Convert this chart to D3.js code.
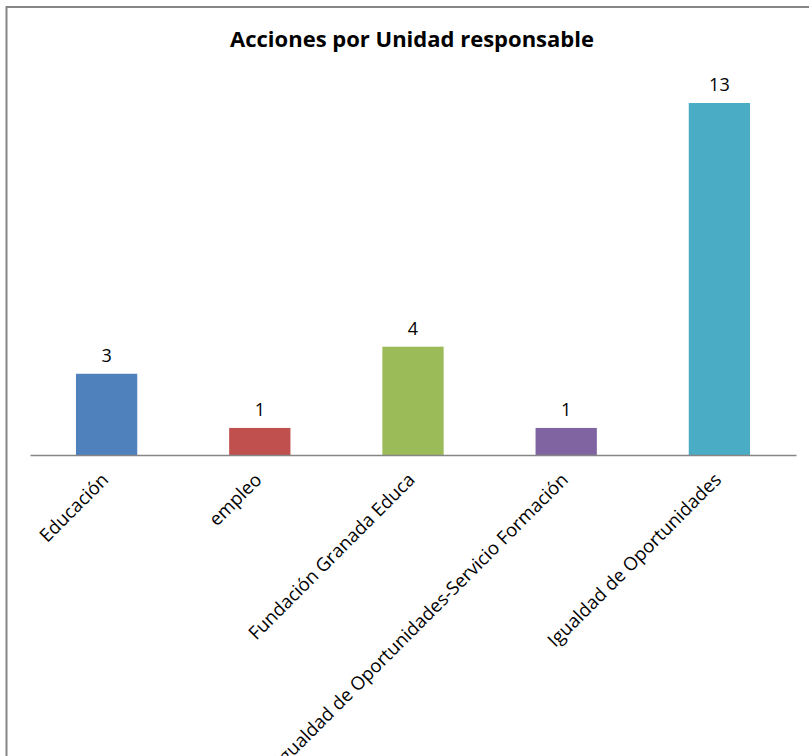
<!DOCTYPE html>
<html><head><meta charset="utf-8">
<script src="https://cdn.jsdelivr.net/npm/d3@7"></script>
<style>body{margin:0;background:#fff;overflow:hidden}svg{display:block}</style>
</head><body>
<script>
const categories = ["Educación","empleo","Fundación Granada Educa","Igualdad de Oportunidades-Servicio Formación","Igualdad de Oportunidades"];
const values = [3,1,4,1,13];
const colors = ["#4F81BD","#C0504D","#9BBB59","#8064A2","#4BACC6"];
const title = "Acciones por Unidad responsable";

const W=809,H=756;
const svg=d3.select("body").append("svg").attr("width",W).attr("height",H);
svg.append("rect").attr("x",0).attr("y",0).attr("width",W).attr("height",H).attr("fill","#fff");
// frame (extends past right/bottom edge)
svg.append("rect").attr("x",6.5).attr("y",7).attr("width",W+20).attr("height",H+20)
  .attr("fill","none").attr("stroke","#868686").attr("stroke-width",2);

const x=d3.scaleBand().domain(categories).range([30,796]).paddingInner(0.6).paddingOuter(0.3);
const y=d3.scaleLinear().domain([0,13]).range([455,103]);

svg.append("text").attr("x",412).attr("y",47).attr("text-anchor","middle")
  .attr("font-family","Open Sans, sans-serif").attr("font-weight","bold").attr("font-size",22)
  .attr("fill","#000").text(title);

svg.selectAll("rect.bar").data(values).enter().append("rect").attr("class","bar")
  .attr("x",(d,i)=>x(categories[i])).attr("width",x.bandwidth())
  .attr("y",d=>y(d)).attr("height",d=>y(0)-y(d)).attr("fill",(d,i)=>colors[i]);

svg.selectAll("text.val").data(values).enter().append("text").attr("class","val")
  .attr("x",(d,i)=>x(categories[i])+x.bandwidth()/2).attr("y",d=>y(d)-12)
  .attr("text-anchor","middle").attr("font-family","Open Sans, sans-serif").attr("font-size",18)
  .attr("fill","#000").text(d=>d);

const axis=d3.axisBottom(x).tickSize(0).tickSizeOuter(0);
const g=svg.append("g").attr("transform","translate(0,455)").call(axis);
g.select(".domain").attr("stroke","#868686").attr("stroke-width",1.3);
g.selectAll(".tick text").attr("font-family","Open Sans, sans-serif").attr("font-size",18.5)
  .attr("fill","#000").attr("text-anchor","end").attr("dy",null).attr("y",0)
  .attr("transform","translate(3,26) rotate(-45)");
</script>
</body></html>
